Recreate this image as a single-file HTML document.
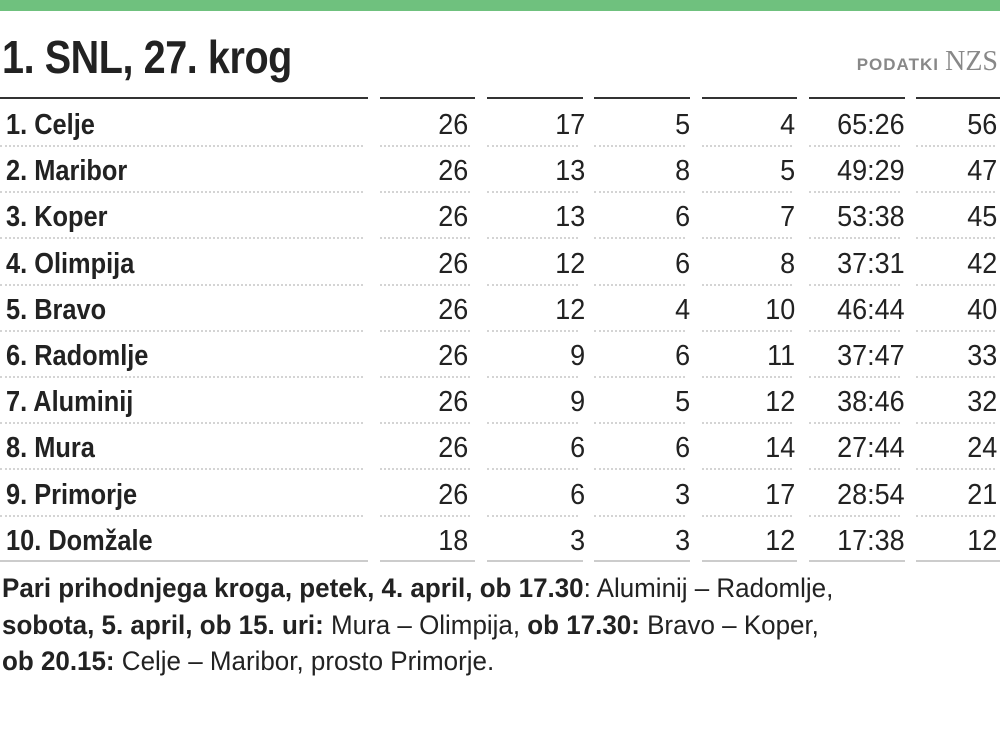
<!DOCTYPE html>
<html><head><meta charset="utf-8"><style>
body{margin:0;width:1000px;height:730px;background:#fff;position:relative;overflow:hidden;font-family:"Liberation Sans",sans-serif;color:#222}
.bar{position:absolute;left:0;top:0;width:1000px;height:11px;background:#6fc17e}
.title{position:absolute;left:2px;top:30px;font-size:46px;font-weight:bold;color:#222;letter-spacing:-0.5px;transform:scaleX(0.86);transform-origin:left;white-space:nowrap}
.src{position:absolute;right:2px;top:46px;color:#888;font-size:22px}
.src b{font-family:"Liberation Sans",sans-serif;font-size:17px;letter-spacing:1px}
.src span{font-family:"Liberation Serif",serif;font-size:28px}
.l{position:absolute;height:0}
.hd{border-top:2px solid #333;top:97px}
.dot{border-top:2px dotted #d4d4d4}
.sol{border-top:2px solid #ccc;top:560px}
.c{position:absolute;font-size:29px;line-height:32px;text-align:right;transform:scaleX(0.93);transform-origin:right;white-space:nowrap}
.n{position:absolute;left:6px;font-size:29px;line-height:32px;font-weight:bold;transform:scaleX(0.875);transform-origin:left;white-space:nowrap}
.foot{position:absolute;left:2px;top:570px;font-size:26.5px;line-height:36.5px;transform:scaleX(0.98);transform-origin:left;white-space:nowrap}
</style></head><body>
<div class="bar"></div>
<div class="title">1. SNL, 27. krog</div>
<div class="src"><b>PODATKI</b> <span>NZS</span></div>
<div id="t"></div>
<div class="foot"><b>Pari prihodnjega kroga, petek, 4. april, ob 17.30</b>: Aluminij – Radomlje,<br><b>sobota, 5. april, ob 15. uri:</b> Mura – Olimpija, <b>ob 17.30:</b> Bravo – Koper,<br><b>ob 20.15:</b> Celje – Maribor, prosto Primorje.</div>
<script>
var cols=[[0,368],[380,475],[487,583],[594,690],[702,797],[809,905],[916,1000]];
var rights=[468,585,690,795,905,997];
var rows=[["1. Celje",26,17,5,4,"65:26",56],["2. Maribor",26,13,8,5,"49:29",47],["3. Koper",26,13,6,7,"53:38",45],["4. Olimpija",26,12,6,8,"37:31",42],["5. Bravo",26,12,4,10,"46:44",40],["6. Radomlje",26,9,6,11,"37:47",33],["7. Aluminij",26,9,5,12,"38:46",32],["8. Mura",26,6,6,14,"27:44",24],["9. Primorje",26,6,3,17,"28:54",21],["10. Domžale",18,3,3,12,"17:38",12]];
var h="";
cols.forEach(function(c){h+='<div class="l hd" style="left:'+c[0]+'px;width:'+(c[1]-c[0])+'px"></div>';
h+='<div class="l sol" style="left:'+c[0]+'px;width:'+(c[1]-c[0])+'px"></div>';
for(var i=0;i<9;i++)h+='<div class="l dot" style="top:'+(145+46.2*i)+'px;left:'+c[0]+'px;width:'+(c[1]-c[0]-5)+'px"></div>';});
rows.forEach(function(r,i){var cy=125+46.2*i-16;
h+='<div class="n" style="top:'+cy+'px">'+r[0]+'</div>';
for(var j=1;j<7;j++)h+='<div class="c" style="top:'+cy+'px;right:'+(1000-rights[j-1])+'px">'+r[j]+'</div>';});
document.getElementById("t").innerHTML=h;
</script>
</body></html>
